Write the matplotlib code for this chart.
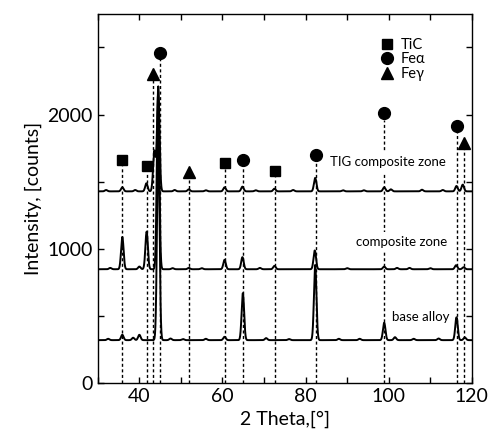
import numpy as np
import matplotlib
matplotlib.use("Agg")
import matplotlib.pyplot as plt
from matplotlib.ticker import MultipleLocator

plt.rcParams['font.family'] = ['Lato', 'DejaVu Sans']

# baselines of the three stacked patterns (counts)
base_level = 320
comp_level = 848
tig_level = 1428

# peaks: position (2theta) and height above baseline
base_pos = [32.5, 35.9, 38.5, 40.0, 44.55, 47.5, 50.5, 56.0, 60.5, 64.9, 70.5, 76.0, 82.3, 88.0, 93.0,
            98.9, 101.5, 106.0, 112.0, 116.3, 118.3]
base_hgt = [10, 40, 18, 40, 1500, 12, 8, 10, 25, 350, 15, 8, 560, 10, 10, 130, 22, 10, 12, 170, 20]

comp_pos = [33.0, 35.9, 40.0, 41.75, 44.5, 48.0, 51.9, 55.0, 60.5, 64.8, 69.0, 72.5, 82.2, 90.0, 98.9,
            102.0, 105.0, 110.0, 116.2, 118.0]
comp_hgt = [10, 240, 20, 280, 1300, 8, 10, 8, 70, 90, 10, 25, 140, 8, 20, 10, 10, 8, 30, 15]

tig_pos = [32.0, 35.9, 39.0, 41.7, 43.6, 44.55, 48.5, 51.9, 56.0, 60.5, 64.8, 68.0, 72.5, 77.0, 82.3,
           89.0, 94.0, 98.9, 100.5, 108.0, 113.0, 116.3, 117.8]
tig_hgt = [10, 30, 10, 60, 300, 780, 10, 15, 8, 30, 35, 8, 20, 10, 100, 8, 8, 30, 15, 12, 10, 40, 50]

# phase markers: peak position and marker height
tic_x = [35.8, 41.8, 60.5, 72.6]
tic_y = [1665, 1615, 1636, 1578]
fea_x = [44.9, 64.9, 82.4, 98.9, 116.3]
fea_y = [2455, 1658, 1697, 2008, 1913]
feg_x = [43.4, 51.9, 118.0]
feg_y = [2300, 1570, 1787]


def pattern(x, level, pos, hgt, w=0.3):
    y = np.full_like(x, float(level))
    for p, h in zip(pos, hgt):
        y += h * np.exp(-0.5 * ((x - p) / w) ** 2)
    return y


fig = plt.figure(figsize=(4.89, 4.46), dpi=100)
ax = fig.add_axes([0.200, 0.141, 0.765, 0.828])

tt = np.arange(30, 120.01, 0.05)

# dashed guide lines from marker to axis
for xs, ys in [(tic_x, tic_y), (fea_x, fea_y), (feg_x, feg_y)]:
    for x0, y0 in zip(xs, ys):
        ax.plot([x0, x0], [0, y0 - 45], color='black', lw=1.0, ls=(0, (2.2, 1.8)), zorder=1)

for level, pos, hgt in [(base_level, base_pos, base_hgt),
                        (comp_level, comp_pos, comp_hgt),
                        (tig_level, tig_pos, tig_hgt)]:
    ax.plot(tt, pattern(tt, level, pos, hgt), color='black', lw=1.4, zorder=2)

ax.plot(tic_x, tic_y, 's', color='black', ms=7, label='TiC', zorder=3)
ax.plot(fea_x, fea_y, 'o', color='black', ms=8.5, label='Fe\u03b1', zorder=3)
ax.plot(feg_x, feg_y, '^', color='black', ms=8, label='Fe\u03b3', zorder=3)

box = dict(facecolor='white', edgecolor='none', pad=3)
ax.text(85.8, 1643, 'TIG composite zone', fontsize=9.5, ha='left', va='center', bbox=box, zorder=1.5)
ax.text(92.0, 1050, 'composite zone', fontsize=9.5, ha='left', va='center', bbox=box, zorder=1.5)
ax.text(100.7, 493, 'base alloy', fontsize=9.5, ha='left', va='center', bbox=box, zorder=1.5)

leg = ax.legend(loc='upper left', bbox_to_anchor=(0.735, 0.955), frameon=False,
                prop={'family': ['Lato', 'DejaVu Serif'], 'size': 10.5},
                handlelength=1.0, handletextpad=0.4, labelspacing=0.05,
                borderpad=0, numpoints=1)

ax.set_xlim(30, 120)
ax.set_ylim(0, 2750)
ax.xaxis.set_major_locator(MultipleLocator(20))
ax.xaxis.set_minor_locator(MultipleLocator(10))
ax.yaxis.set_major_locator(MultipleLocator(1000))
ax.yaxis.set_minor_locator(MultipleLocator(500))
ax.tick_params(which='both', direction='in', top=True, right=True, length=4, width=1, labelsize=14)
for s in ax.spines.values():
    s.set_linewidth(1)

ax.set_xlabel('2 Theta,[°]', fontsize=14)
ax.set_ylabel('Intensity, [counts]', fontsize=14)

fig.savefig('out.png', dpi=100)
